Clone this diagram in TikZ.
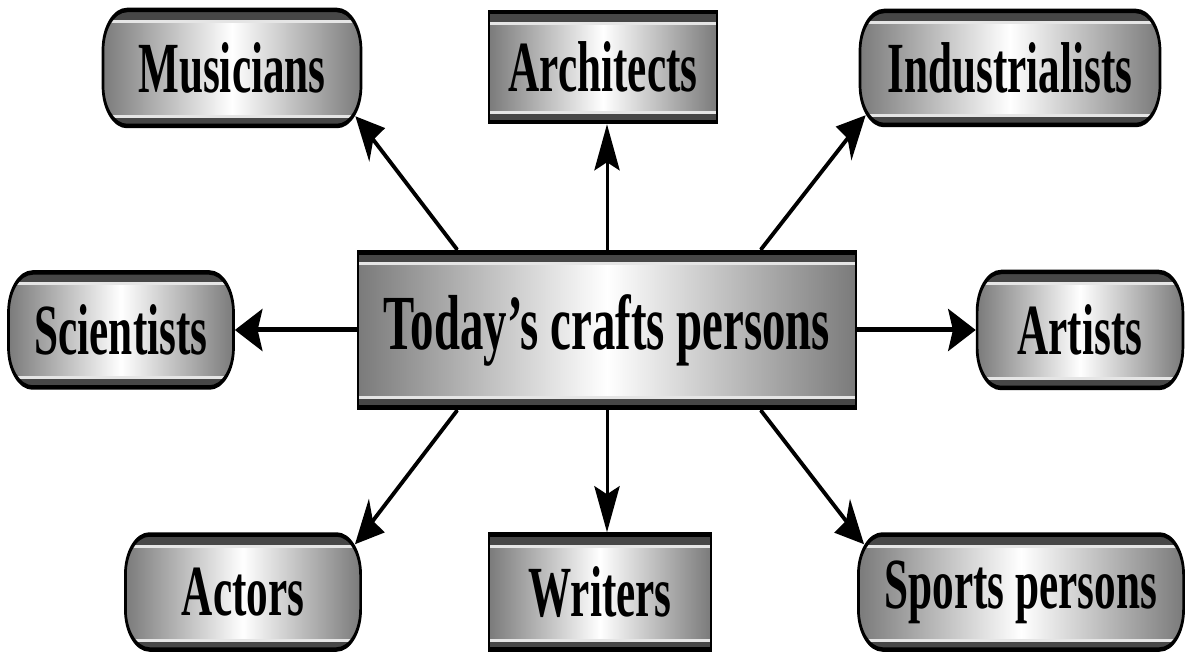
\documentclass[tikz,border=0pt]{standalone}
\usepackage{fontspec}
\setmainfont{Liberation Serif}
\usetikzlibrary{arrows.meta,calc}
\tikzset{
  box/.style={draw=black, line width=4.5pt, left color=black!52, right color=black!52,
    middle color=white, inner sep=0pt, align=center,
    font=\bfseries\fontsize{72}{76}\selectfont,
    path picture={
      \fill[black!72, sharp corners] (path picture bounding box.north west) rectangle ([yshift=-10pt]path picture bounding box.north east);
      \fill[white!90!black, sharp corners] ([yshift=-10pt]path picture bounding box.north west) rectangle ([yshift=-13pt]path picture bounding box.north east);
      \fill[black!72, sharp corners] (path picture bounding box.south west) rectangle ([yshift=8pt]path picture bounding box.south east);
      \fill[white!90!black, sharp corners] ([yshift=8pt]path picture bounding box.south west) rectangle ([yshift=11pt]path picture bounding box.south east);
    }},
  rbox/.style={box, rounded corners=40pt},
  sbox/.style={box, sharp corners},
  arr/.style={line width=5pt, -{Stealth[length=46pt,width=42pt,inset=8pt]}}
}
\begin{document}
\begin{tikzpicture}[x=1pt,y=-1pt]
\useasboundingbox (0,0) rectangle (1187,652);
\begin{scope}[transform canvas={xscale=0.6}, x=1.666667pt, y=-1pt]
% central
\node[sbox, minimum width=830pt, minimum height=155pt,
      font=\bfseries\fontsize{78}{82}\selectfont] (cen) at (607,330) {Today’s crafts persons};
% outer nodes
\node[rbox, minimum width=430pt, minimum height=116pt] (mus) at (232,68) {Musicians};
\node[sbox, minimum width=380pt, minimum height=110pt] (arc) at (603,67) {Architects};
\node[rbox, minimum width=500pt, minimum height=114pt] (ind) at (1010,68) {Industrialists};
\node[rbox, minimum width=375pt, minimum height=115pt] (sci) at (121,330) {Scientists};
\node[rbox, minimum width=343pt, minimum height=116pt] (art) at (1080,330) {Artists};
\node[rbox, minimum width=392pt, minimum height=115pt] (act) at (243,592) {Actors};
\node[sbox, minimum width=370pt, minimum height=115pt] (wri) at (600,592) {Writers};
\node[rbox, minimum width=542pt, minimum height=115pt] (spo) at (1021,592) {Sports persons};
% arrows
\draw[arr] ($(cen.north west)+(101,0)$) -- ($(mus.south east)+(-7,-12)$);
\draw[arr] (cen.north) -- (cen.north |- arc.south);
\draw[arr] ($(cen.north east)+(-97,0)$) -- ($(ind.south west)+(7,-12)$);
\draw[arr] (cen.west) -- (sci.east);
\draw[arr] (cen.east) -- (art.west);
\draw[arr] ($(cen.south west)+(101,0)$) -- ($(act.north east)+(-7,12)$);
\draw[arr] (cen.south) -- (cen.south |- wri.north);
\draw[arr] ($(cen.south east)+(-97,0)$) -- ($(spo.north west)+(7,12)$);
\end{scope}
\end{tikzpicture}
\end{document}
